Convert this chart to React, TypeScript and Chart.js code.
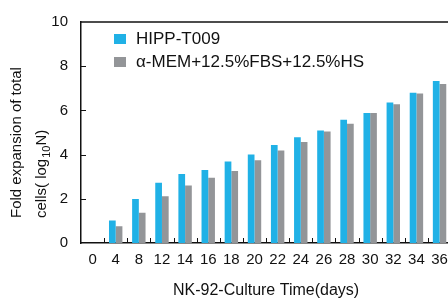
import React, { useEffect, useRef } from "react";
import { Chart, registerables } from "chart.js";

Chart.register(...registerables);

const days = ["0", "4", "8", "12", "14", "16", "18", "20", "22", "24", "26", "28", "30", "32", "34", "36"];
const hippT009 = [null, 1.02, 1.99, 2.73, 3.12, 3.3, 3.69, 4.0, 4.44, 4.79, 5.09, 5.58, 5.88, 6.36, 6.8, 7.33];
const alphaMem = [null, 0.76, 1.37, 2.12, 2.6, 2.95, 3.26, 3.74, 4.18, 4.57, 5.05, 5.4, 5.88, 6.28, 6.76, 7.2];
const seriesLabels = ["HIPP-T009", "α-MEM+12.5%FBS+12.5%HS"];
const seriesColors = ["#20b1e6", "#939598"];
const yMin = 0;
const yMax = 10;
const yStep = 2;
const xTitle = "NK-92-Culture Time(days)";
const yTitleLine1 = "Fold expansion of total";
const yTitleLine2a = "cells( log";
const yTitleSub = "10";
const yTitleLine2b = "N)";

const FONT = "'Liberation Sans', Arial, sans-serif";

const framePlugin = {
  id: "frame",
  afterDraw(chart: any) {
    const { ctx, chartArea } = chart;
    const x = chart.scales.x;
    const y = chart.scales.y;
    ctx.save();
    // top frame line
    ctx.strokeStyle = "#111";
    ctx.lineWidth = 1.5;
    ctx.beginPath();
    ctx.moveTo(chartArea.left, chartArea.top);
    ctx.lineTo(chartArea.right, chartArea.top);
    ctx.stroke();
    // inward ticks on y axis
    ctx.lineWidth = 1;
    ctx.beginPath();
    y.ticks.forEach((t: any) => {
      if (t.value <= yMin || t.value >= yMax) return;
      const py = Math.round(y.getPixelForValue(t.value)) + 0.5;
      ctx.moveTo(chartArea.left, py);
      ctx.lineTo(chartArea.left + 5, py);
    });
    // inward ticks on x axis between categories
    for (let i = 0; i < days.length - 1; i++) {
      const px = Math.round((x.getPixelForValue(i) + x.getPixelForValue(i + 1)) / 2) + 0.5;
      ctx.moveTo(px, chartArea.bottom);
      ctx.lineTo(px, chartArea.bottom - 5);
    }
    ctx.stroke();

    // legend
    ctx.textBaseline = "middle";
    ctx.textAlign = "left";
    ctx.font = `17px ${FONT}`;
    chart.data.datasets.forEach((ds: any, i: number) => {
      const cy = 39 + i * 23;
      ctx.fillStyle = ds.backgroundColor;
      ctx.fillRect(114, cy - 5, 12, 10);
      ctx.fillStyle = "#111";
      ctx.fillText(ds.label, 136, cy + 0.5);
    });

    // y title
    ctx.save();
    ctx.translate(0, 218);
    ctx.rotate(-Math.PI / 2);
    ctx.textBaseline = "alphabetic";
    ctx.fillStyle = "#111";
    ctx.font = `15px ${FONT}`;
    ctx.fillText(yTitleLine1, 0, 21);
    let u = 0;
    ctx.fillText(yTitleLine2a, u, 46);
    u += ctx.measureText(yTitleLine2a).width + 1;
    ctx.font = `11px ${FONT}`;
    ctx.fillText(yTitleSub, u, 50);
    u += ctx.measureText(yTitleSub).width;
    ctx.font = `15px ${FONT}`;
    ctx.fillText(yTitleLine2b, u, 46);
    ctx.restore();
    ctx.restore();
  },
};

export default function App() {
  const ref = useRef<HTMLCanvasElement | null>(null);
  useEffect(() => {
    if (!ref.current) return;
    const chart = new Chart(ref.current, {
      type: "bar",
      data: {
        labels: days,
        datasets: [
          { label: seriesLabels[0], data: hippT009, backgroundColor: seriesColors[0], borderWidth: 0 },
          { label: seriesLabels[1], data: alphaMem, backgroundColor: seriesColors[1], borderWidth: 0 },
        ],
      },
      options: {
        responsive: false,
        animation: false,
        devicePixelRatio: 1,
        layout: { padding: { top: 15, right: 3, left: 0, bottom: 0 } },
        datasets: { bar: { barPercentage: 1, categoryPercentage: 0.58 } },
        plugins: { legend: { display: false }, tooltip: { enabled: false } },
        scales: {
          x: {
            grid: { display: false, drawTicks: false },
            border: { display: true, color: "#111", width: 1.5 },
            ticks: { color: "#111", font: { family: FONT, size: 15 }, padding: 8, maxRotation: 0, autoSkip: false },
            title: { display: true, text: xTitle, color: "#111", font: { family: FONT, size: 16 }, padding: { top: 0, bottom: 0 } },
            afterFit(scale: any) {
              scale.height = 57;
            },
          },
          y: {
            min: yMin,
            max: yMax,
            grid: { display: false, drawTicks: false },
            border: { display: true, color: "#111", width: 1.5 },
            ticks: { stepSize: yStep, color: "#111", font: { family: FONT, size: 15 }, padding: 13 },
            afterFit(scale: any) {
              scale.width = 81;
            },
          },
        },
      },
      plugins: [framePlugin],
    } as any);
    return () => chart.destroy();
  }, []);
  return (
    <div style={{ position: "fixed", left: 0, top: 0, width: 448, height: 300, overflow: "hidden", background: "#fff" }}>
      <canvas ref={ref} width={456} height={300} style={{ display: "block", width: 456, height: 300 }} />
    </div>
  );
}
